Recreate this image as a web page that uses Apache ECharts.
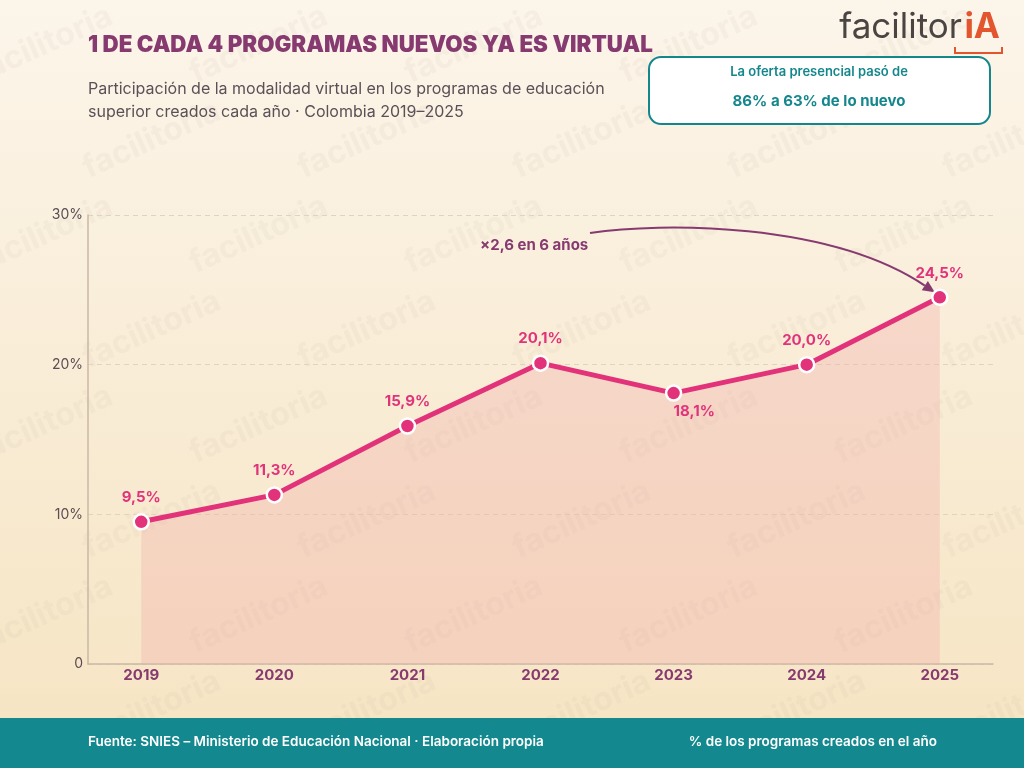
<!DOCTYPE html>
<html>
<head>
<meta charset="utf-8">
<script src="https://cdn.jsdelivr.net/npm/echarts@6/dist/echarts.min.js"></script>
<style>
  html, body { margin: 0; padding: 0; }
  #main { width: 1024px; height: 768px; }
</style>
</head>
<body>
<div id="main"></div>
<script>
    // datos
    var years = [2019, 2020, 2021, 2022, 2023, 2024, 2025];
    var virtualShare = [9.5, 11.3, 15.9, 20.1, 18.1, 20.0, 24.5];
    var yTicks = [0, 10, 20, 30];
    var labelBelow = [2023];

    var FONT = 'Inter, "Noto Sans", sans-serif';
    var PURPLE = '#873a70';
    var PINK = '#e2337a';
    var TEAL = '#14878d';

    var chart = echarts.init(document.getElementById('main'));

    // marcas de agua
    var marks = [];
    for (var r = 0; r < 8; r++) {
        for (var c = 0; c < 5; c++) {
            marks.push({
                type: 'text', id: 'wm' + r + '_' + c, z: 0, silent: true,
                x: -30 + c * 215 + (r % 2) * 108, y: 60 + r * 95,
                rotation: 0.42,
                style: { text: 'facilitoria', font: 'bold 32px ' + FONT, fill: 'rgba(170,150,130,0.065)' }
            });
        }
    }

    var points = years.map(function (y, i) { return [y, virtualShare[i]]; });

    var option = {
        backgroundColor: new echarts.graphic.LinearGradient(0, 0, 0, 1, [
            { offset: 0, color: '#fcf5ea' },
            { offset: 1, color: '#f6e4c2' }
        ]),
        textStyle: { fontFamily: FONT },
        grid: { left: 88, right: 31, top: 215, bottom: 104 },
        xAxis: {
            type: 'value',
            min: 2018.6,
            max: 2025.4,
            splitLine: { show: false },
            axisTick: { show: false },
            axisLine: { show: true, lineStyle: { color: '#c9b9a6', width: 1.5 } },
            axisLabel: {
                customValues: years,
                color: PURPLE, fontSize: 15, fontWeight: 'bold', margin: 4,
                formatter: function (v) { return String(v); }
            }
        },
        yAxis: {
            type: 'value',
            min: 0, max: 30, interval: 10,
            axisLine: { show: true, lineStyle: { color: '#c9b9a6', width: 1.5 } },
            axisTick: { show: false },
            splitLine: { lineStyle: { color: '#e2d3bf', type: [5, 4], width: 1 } },
            axisLabel: {
                customValues: yTicks,
                color: '#5b4c55', fontSize: 14, margin: 5,
                formatter: function (v) { return v === 0 ? '0' : v + '%'; }
            }
        },
        series: [{
            type: 'line',
            data: points,
            z: 3,
            symbol: 'circle',
            symbolSize: 15,
            itemStyle: { color: PINK, borderColor: '#ffffff', borderWidth: 2.5 },
            lineStyle: { color: PINK, width: 5 },
            areaStyle: { color: 'rgba(240,172,170,0.5)' },
            label: {
                show: true,
                position: 'top',
                distance: 8,
                color: PINK,
                fontSize: 15,
                fontWeight: 'bold',
                formatter: function (p) { return p.value[1].toFixed(1).replace('.', ',') + '%'; }
            },
            labelLayout: function (p) {
                var y = years[p.dataIndex];
                if (labelBelow.indexOf(y) >= 0) {
                    return { y: p.rect.y + p.rect.height + 2 };
                }
                return {};
            }
        }],
        graphic: marks.concat([
            {
                type: 'text', id: 'title', left: 88, top: 34,
                style: { text: '1 DE CADA 4 PROGRAMAS NUEVOS YA ES VIRTUAL', font: '900 22.3px ' + FONT, fill: PURPLE }
            },
            {
                type: 'text', id: 'subtitle', left: 88, top: 78,
                style: {
                    text: 'Participación de la modalidad virtual en los programas de educación\nsuperior creados cada año · Colombia 2019–2025',
                    font: '16px ' + FONT, fill: '#5b5058', lineHeight: 23
                }
            },
            // logo
            {
                type: 'text', id: 'logo1', right: 62, top: 10,
                style: { text: 'facilitor', font: '35px ' + FONT, fill: '#4a4542' }
            },
            {
                type: 'text', id: 'logo2', right: 24, top: 10,
                style: { text: 'iA', font: 'bold 35px ' + FONT, fill: '#e2552f' }
            },
            {
                type: 'polyline', id: 'logo3',
                shape: { points: [[955, 47], [955, 53], [1002, 53], [1002, 47]] },
                style: { stroke: '#e2552f', lineWidth: 2, fill: null }
            },
            // recuadro
            {
                type: 'rect', id: 'box',
                shape: { x: 649, y: 57, width: 341, height: 67, r: 12 },
                style: { fill: '#ffffff', stroke: TEAL, lineWidth: 2 }
            },
            {
                type: 'text', id: 'box1', x: 819, y: 72,
                style: { text: 'La oferta presencial pasó de', font: '600 13px ' + FONT, fill: TEAL, align: 'center', verticalAlign: 'middle' }
            },
            {
                type: 'text', id: 'box2', x: 819, y: 101,
                style: { text: '86% a 63% de lo nuevo', font: 'bold 15px ' + FONT, fill: TEAL, align: 'center', verticalAlign: 'middle' }
            },
            // anotación
            {
                type: 'text', id: 'note', x: 480, y: 245,
                style: { text: '×2,6 en 6 años', font: 'bold 15px ' + FONT, fill: PURPLE, verticalAlign: 'middle' }
            },
            // pie
            {
                type: 'rect', id: 'foot',
                shape: { x: 0, y: 718, width: 1024, height: 50 },
                style: { fill: '#13898f' }
            },
            {
                type: 'text', id: 'foot1', x: 88, y: 742,
                style: { text: 'Fuente: SNIES – Ministerio de Educación Nacional · Elaboración propia', font: '600 13.5px ' + FONT, fill: '#ffffff', verticalAlign: 'middle' }
            },
            {
                type: 'text', id: 'foot2', x: 937, y: 742,
                style: { text: '% de los programas creados en el año', font: '600 13.5px ' + FONT, fill: '#ffffff', align: 'right', verticalAlign: 'middle' }
            }
        ])
    };
    chart.setOption(option);

    // flecha curva hacia el último punto
    var last = points[points.length - 1];
    var tip = chart.convertToPixel({ gridIndex: 0 }, last);
    var ex = tip[0] - 5, ey = tip[1] - 5;
    var sx = 590, sy = 233;
    var c1x = 660, c1y = 222, c2x = 830, c2y = 222;
    var ang = Math.atan2(ey - c2y, ex - c2x);
    var L = 12, W = 5.5;
    var bx = ex - L * Math.cos(ang), by = ey - L * Math.sin(ang);
    chart.setOption({
        graphic: [
            {
                type: 'bezierCurve', id: 'arrowCurve', silent: true,
                shape: { x1: sx, y1: sy, cpx1: c1x, cpy1: c1y, cpx2: c2x, cpy2: c2y, x2: bx, y2: by },
                style: { stroke: PURPLE, lineWidth: 2, fill: null }
            },
            {
                type: 'polygon', id: 'arrowHead', silent: true,
                shape: { points: [
                    [ex, ey],
                    [bx + W * Math.sin(ang), by - W * Math.cos(ang)],
                    [bx - W * Math.sin(ang), by + W * Math.cos(ang)]
                ] },
                style: { fill: PURPLE }
            }
        ]
    });
</script>
</body>
</html>
